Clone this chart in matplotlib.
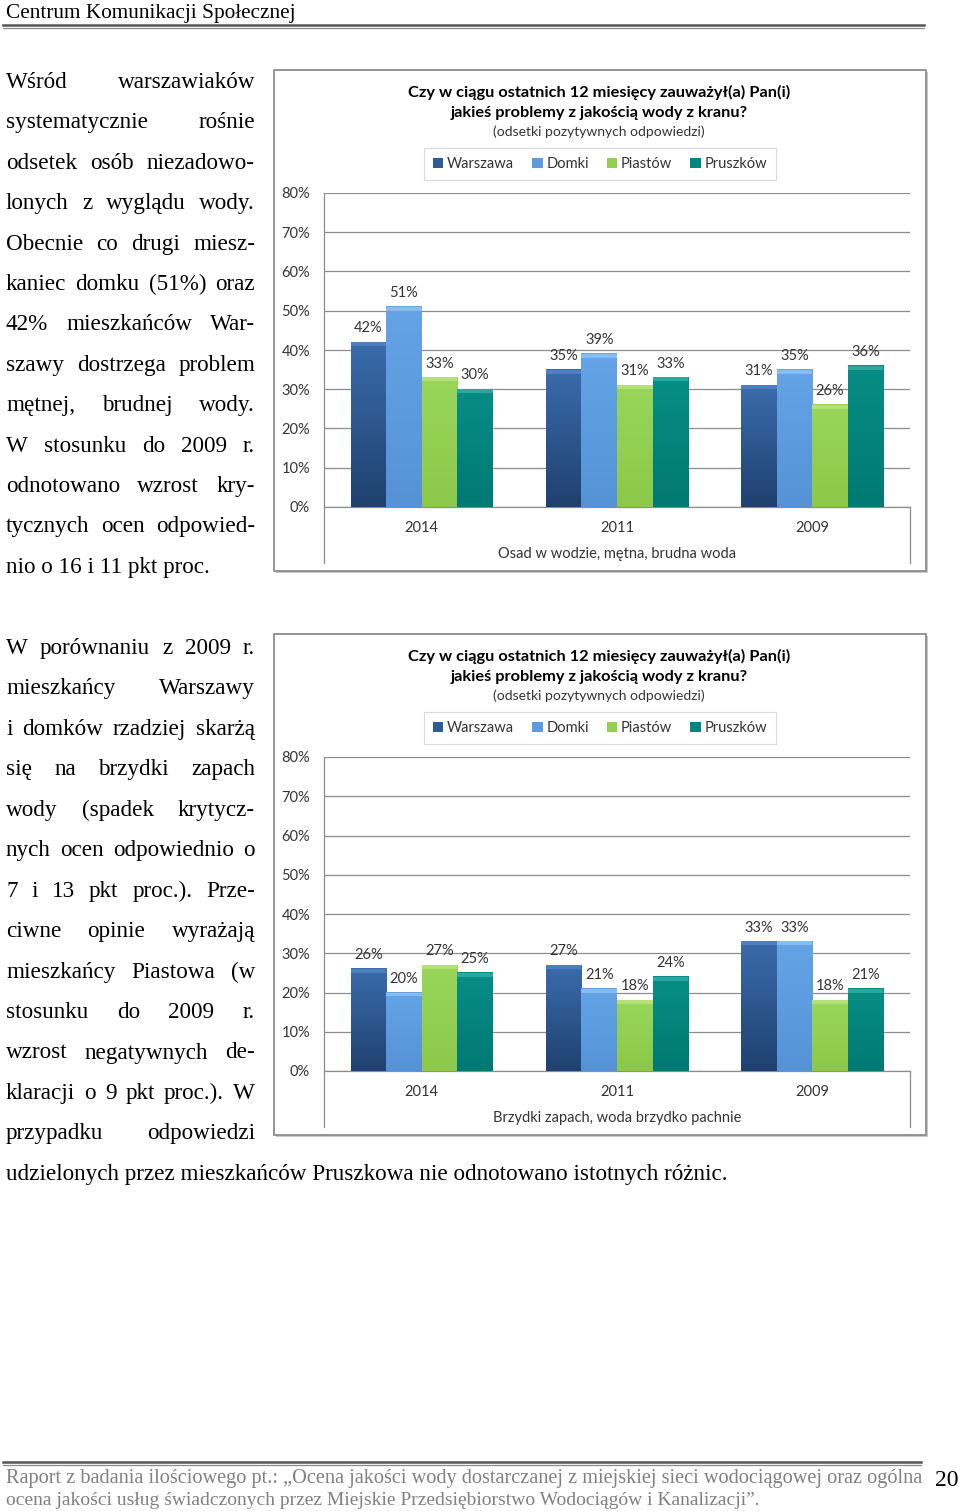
import matplotlib
matplotlib.use("Agg")
import numpy as np
from matplotlib import pyplot as plt
from matplotlib.patches import Rectangle
from matplotlib.lines import Line2D
from matplotlib.colors import LinearSegmentedColormap

W, H = 960, 1511

years = ["2014", "2011", "2009"]
series = ["Warszawa", "Domki", "Piastów", "Pruszków"]
colors = ["#2d5b95", "#5b9be0", "#92d050", "#00877f"]
# top / bottom shades and bevel cap for each series
shade_top = ["#3a6bab", "#63a3e6", "#98d65a", "#078d85"]
shade_bot = ["#1f416f", "#5593d6", "#8cc94a", "#007a72"]
cap_col = ["#4d7ec0", "#88bcf0", "#b4e07a", "#2aa89e"]

osad_warszawa = [42, 35, 31]
osad_domki = [51, 39, 35]
osad_piastow = [33, 31, 26]
osad_pruszkow = [30, 33, 36]

zapach_warszawa = [26, 27, 33]
zapach_domki = [20, 21, 33]
zapach_piastow = [27, 18, 18]
zapach_pruszkow = [25, 24, 21]

yticks = [0, 10, 20, 30, 40, 50, 60, 70, 80]

title1 = "Czy w ciągu ostatnich 12 miesięcy zauważył(a) Pan(i)"
title2 = "jakieś problemy z jakością wody z kranu?"
subtitle = "(odsetki pozytywnych odpowiedzi)"

para1 = [
    "Wśród warszawiaków",
    "systematycznie rośnie",
    "odsetek osób niezadowo-",
    "lonych z wyglądu wody.",
    "Obecnie co drugi miesz-",
    "kaniec domku (51%) oraz",
    "42% mieszkańców War-",
    "szawy dostrzega problem",
    "mętnej, brudnej wody.",
    "W stosunku do 2009 r.",
    "odnotowano wzrost kry-",
    "tycznych ocen odpowied-",
    "nio o 16 i 11 pkt proc.",
]
para2 = [
    "W porównaniu z 2009 r.",
    "mieszkańcy Warszawy",
    "i domków rzadziej skarżą",
    "się na brzydki zapach",
    "wody (spadek krytycz-",
    "nych ocen odpowiednio o",
    "7 i 13 pkt proc.). Prze-",
    "ciwne opinie wyrażają",
    "mieszkańcy Piastowa (w",
    "stosunku do 2009 r.",
    "wzrost negatywnych de-",
    "klaracji o 9 pkt proc.). W",
    "przypadku odpowiedzi",
]
para2_last = "udzielonych przez mieszkańców Pruszkowa nie odnotowano istotnych różnic."

header = "Centrum Komunikacji Społecznej"
footer1 = ("Raport z badania ilościowego pt.: „Ocena jakości wody dostarczanej "
           "z miejskiej sieci wodociągowej oraz ogólna")
footer2 = ("ocena jakości usług świadczonych przez Miejskie Przedsiębiorstwo "
           "Wodociągów i Kanalizacji”.")

SERIF = "Liberation Serif"
SANS = "Lato"


def fx(x):
    return x / W


def fy(y):
    return 1 - y / H


fig = plt.figure(figsize=(W / 100, H / 100), dpi=100)
renderer = fig.canvas.get_renderer()


def width_of(t):
    return t.get_window_extent(renderer).width


def fit_text(s, x, y, target, color="black"):
    t = fig.text(fx(x), fy(y), s, fontsize=10, family=SERIF, color=color,
                 ha="left", va="baseline")
    t.set_fontsize(10 * target / width_of(t))
    return t


def justify(s, x0, x1, y, size, last=False):
    if last:
        fig.text(fx(x0), fy(y), s, fontsize=size, family=SERIF,
                 ha="left", va="baseline")
        return
    words = s.split()
    texts = [fig.text(fx(x0), fy(y), w, fontsize=size, family=SERIF,
                      ha="left", va="baseline") for w in words]
    widths = [width_of(t) for t in texts]
    gap = (x1 - x0 - sum(widths)) / max(len(words) - 1, 1)
    x = x0
    for t, w in zip(texts, widths):
        t.set_x(fx(x))
        x += w + gap


# header and footer
fit_text(header, 6, 18, 290)
fig.add_artist(Line2D([fx(3), fx(924)], [fy(24.5)] * 2, color="#555555", lw=1.8))
fig.add_artist(Line2D([fx(3), fx(924)], [fy(27.5)] * 2, color="#888888", lw=0.9))

fig.add_artist(Line2D([fx(3), fx(921)], [fy(1462)] * 2, color="#555555", lw=1.8))
fig.add_artist(Line2D([fx(3), fx(921)], [fy(1465)] * 2, color="#888888", lw=0.9))
fit_text(footer1, 6, 1483, 914, color="#808080")
fit_text(footer2, 6, 1505, 752, color="#808080")
fig.text(fx(947), fy(1486), "20", fontsize=17, family=SERIF, ha="center", va="baseline")

# body text
BODY = 16.7
for i, line in enumerate(para1):
    justify(line, 6, 255, 88 + 40.4 * i, BODY, last=(i == len(para1) - 1))
for i, line in enumerate(para2):
    justify(line, 6, 255, 654 + 40.45 * i, BODY)
justify(para2_last, 6, 255, 654 + 40.45 * 13, BODY, last=True)


def draw_chart(top, values, xtitle):
    # outer frame with slight shadow
    fig.patches.append(Rectangle((fx(276), fy(top + 503)), 652 / W, 501 / H,
                                 transform=fig.transFigure, facecolor="#c8c8c8",
                                 edgecolor="none", zorder=-2))
    fig.patches.append(Rectangle((fx(274), fy(top + 501)), 652 / W, 501 / H,
                                 transform=fig.transFigure, facecolor="white",
                                 edgecolor="#8c8c8c", lw=1.3, zorder=-1))

    fig.text(fx(599), fy(top + 22), title1, fontsize=11.8, fontweight="bold",
             family=SANS, ha="center", va="center")
    fig.text(fx(599), fy(top + 43), title2, fontsize=11.8, fontweight="bold",
             family=SANS, ha="center", va="center")
    fig.text(fx(599), fy(top + 62), subtitle, fontsize=10, family=SANS,
             color="#333333", ha="center", va="center")

    ax = fig.add_axes([fx(324), fy(top + 437), 586 / W, 314 / H])
    ax.set_zorder(2)
    x = np.arange(len(years))
    bw = 0.182
    handles = []
    for i, (name, vals) in enumerate(zip(series, values)):
        bars = ax.bar(x + (i - 1.5) * bw, vals, bw, color=colors[i],
                      edgecolor="none", label=name, zorder=3)
        cmap = LinearSegmentedColormap.from_list(name, [shade_bot[i], shade_top[i]])
        grad = np.linspace(0, 1, 64).reshape(-1, 1)
        for p in bars:
            x0, w, h = p.get_x(), p.get_width(), p.get_height()
            ax.imshow(grad, extent=[x0, x0 + w, 0, h], origin="lower",
                      aspect="auto", cmap=cmap, zorder=3.1, interpolation="bicubic")
            ax.add_patch(Rectangle((x0, h - 1.0), w, 1.0, facecolor=cap_col[i],
                                   edgecolor="none", zorder=3.2))
        ax.bar_label(bars, labels=[f"{v}%" for v in vals], padding=5,
                     fontsize=10.5, family=SANS, color="#333333")
        handles.append(bars)

    ax.set_xlim(-0.5, 2.5)
    ax.set_ylim(0, 80)
    ax.set_aspect("auto")
    ax.set_yticks(yticks, [f"{v}%" for v in yticks])
    ax.set_xticks(x, years)
    ax.tick_params(axis="y", length=0, pad=10, labelsize=10.5, labelcolor="#333333")
    ax.tick_params(axis="x", length=0, pad=10, labelsize=10.5, labelcolor="#333333")
    for lab in ax.get_xticklabels() + ax.get_yticklabels():
        lab.set_family(SANS)
    ax.grid(axis="y", color="#8c8c8c", lw=0.9, zorder=0)
    ax.set_axisbelow(True)
    for s in ("top", "right"):
        ax.spines[s].set_visible(False)
    for s in ("left", "bottom"):
        ax.spines[s].set_color("#8c8c8c")
        ax.spines[s].set_linewidth(0.9)
    ax.set_facecolor("none")
    for xa in (0, 1):
        ax.plot([xa, xa], [0, -56 / 314], transform=ax.transAxes,
                color="#8c8c8c", lw=0.9, clip_on=False)

    fig.text(fx(617), fy(top + 484), xtitle, fontsize=10.5, family=SANS,
             color="#333333", ha="center", va="center")

    leg = ax.legend(handles=handles, loc="center", ncol=4,
                    bbox_to_anchor=(fx(600), fy(top + 94)),
                    bbox_transform=fig.transFigure, frameon=True, fancybox=False,
                    edgecolor="#d0d0d0", handlelength=0.7, handleheight=0.7,
                    handletextpad=0.25, columnspacing=1.25, borderpad=0.6,
                    prop={"family": SANS, "size": 10.5})
    leg.get_frame().set_linewidth(0.8)
    for t in leg.get_texts():
        t.set_color("#333333")


draw_chart(70, [osad_warszawa, osad_domki, osad_piastow, osad_pruszkow],
           "Osad w wodzie, mętna, brudna woda")
draw_chart(634, [zapach_warszawa, zapach_domki, zapach_piastow, zapach_pruszkow],
           "Brzydki zapach, woda brzydko pachnie")

fig.savefig("out.png", dpi=100)
